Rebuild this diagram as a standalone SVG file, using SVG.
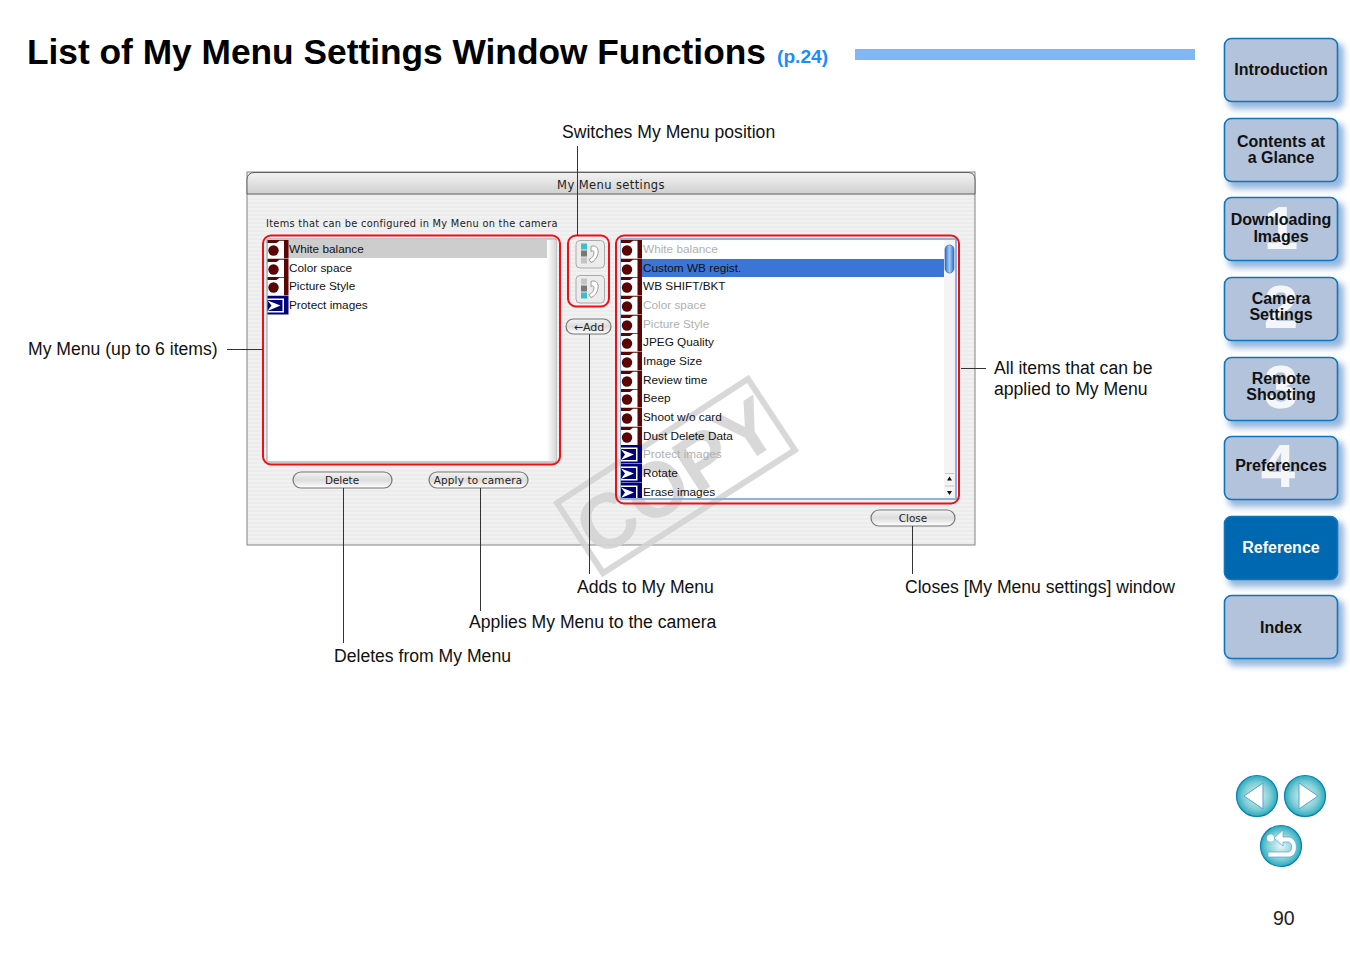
<svg xmlns="http://www.w3.org/2000/svg" width="1350" height="954" viewBox="0 0 1350 954">
<style>
text{font-family:"Liberation Sans",Arial,sans-serif;fill:#000}
.cap{font-size:17.6px;fill:#111}
.ui{font-family:"DejaVu Sans",sans-serif;font-size:10.4px;fill:#222}
.li{font-size:11.8px;fill:#111}
.dim{fill:#b0b0b0}
.side{font-size:16px;font-weight:bold;text-anchor:middle;fill:#111}
.num{font-size:62px;font-weight:bold;text-anchor:middle;fill:#fff;fill-opacity:.85}
.tab{fill:#b3c3dc;stroke:#0f75bc;stroke-width:1.6}
.shadow{fill:#4f86c6;opacity:.6;filter:url(#blur)}
.red{fill:none;stroke:#f00f17;stroke-width:2}
.lead{fill:none;stroke:#333;stroke-width:1}
.btn{fill:url(#btn);stroke:#777;stroke-width:1.2}
</style>
<defs>
<filter id="blur" x="-20%" y="-20%" width="140%" height="140%"><feGaussianBlur stdDeviation="3"/></filter>
<pattern id="stripes" width="4" height="4" patternUnits="userSpaceOnUse"><rect width="4" height="4" fill="#f1f1f1"/><rect y="2" width="4" height="2" fill="#ececec"/></pattern>
<linearGradient id="title" x1="0" y1="0" x2="0" y2="1"><stop offset="0" stop-color="#f3f3f3"/><stop offset="1" stop-color="#cfcfcf"/></linearGradient>
<linearGradient id="btn" x1="0" y1="0" x2="0" y2="1"><stop offset="0" stop-color="#f4f4f4"/><stop offset=".5" stop-color="#dcdcdc"/><stop offset="1" stop-color="#fff"/></linearGradient>
<linearGradient id="edge" x1="0" y1="0" x2="1" y2="0"><stop offset="0" stop-color="#fff"/><stop offset="1" stop-color="#d8d8d8"/></linearGradient>
<linearGradient id="thumb" x1="0" y1="0" x2="1" y2="0"><stop offset="0" stop-color="#2a6fd0"/><stop offset=".5" stop-color="#a8ccf5"/><stop offset="1" stop-color="#2a6fd0"/></linearGradient>
<radialGradient id="nav" cx=".5" cy=".5" r=".55"><stop offset="0" stop-color="#e6f5f6"/><stop offset=".6" stop-color="#7fcdd4"/><stop offset="1" stop-color="#0fa0b8"/></radialGradient>
<g id="cam"><rect width="21" height="18.500" fill="#5c0505"/><path d="M0 3H9L12 0.800H16.500V18.500H0Z" fill="#fff"/><circle cx="6" cy="10.500" r="5.200" fill="#5c0505"/></g>
<g id="play"><rect width="21" height="18.500" fill="#00007a"/><rect y="2.500" width="16.500" height="14" fill="#fff"/><rect y="4" width="15" height="11" fill="#00007a"/><path d="M0 4.500L13 9.500L0 15L4 9.500Z" fill="#fff"/></g>
<g id="swap"><rect x="0" y="0" width="28.500" height="27.500" rx="4" fill="#ececec" stroke="#aaa"/><path d="M15 6C20 4 23 8 22 13C21 18 18 21 15 22L13 19C16 18 18 15 18 12C18 10 16 10 15 11Z" fill="#fff" stroke="#999"/></g>
</defs>

<text id="page-title" x="27" y="64" font-size="35.300" font-weight="bold">List of My Menu Settings Window Functions</text>
<text id="page-ref" x="777" y="63" font-size="19.200" font-weight="bold" style="fill:#1a8cff">(p.24)</text>
<rect id="title-bar" x="855" y="49" width="340" height="11" fill="#80b8f5"/>

<g id="window">
<rect x="247" y="172" width="728" height="373" fill="url(#stripes)" stroke="#777" stroke-width=".9"/>
<path d="M247 194V180Q247 172.500 255 172.500H968Q975 172.500 975 180V194Z" fill="url(#title)" stroke="#555" stroke-width=".9"/>
<text class="ui" x="611" y="189" text-anchor="middle" style="font-size:11.500px;letter-spacing:.4px">My Menu settings</text>
<text class="ui" x="266" y="227" style="font-size:9.800px;letter-spacing:.3px">Items that can be configured in My Menu on the camera</text>
<rect x="621" y="239" width="335" height="260" fill="#fff"/>
</g>

<g id="copy-watermark" opacity=".9">
<path d="M557 503L748 379L795 450L603 573Z" fill="none" stroke="#d4d4d4" stroke-width="6"/>
<text transform="translate(691,499) rotate(-33)" text-anchor="middle" font-size="78" font-weight="bold" style="fill:#d4d4d4">COPY</text>
</g>

<g id="my-menu-list">
<rect x="267" y="239" width="289" height="223" fill="#fff" stroke="#999"/>
<rect x="547" y="240" width="9" height="221" fill="url(#edge)"/>
<rect x="268" y="240" width="279" height="18" fill="#cdcdcd"/>
<use href="#cam" x="267.500" y="240"/><use href="#cam" x="267.500" y="259"/><use href="#cam" x="267.500" y="277"/><use href="#play" x="267.500" y="296"/>
<text class="li" x="289" y="253">White balance</text>
<text class="li" x="289" y="272">Color space</text>
<text class="li" x="289" y="290">Picture Style</text>
<text class="li" x="289" y="309">Protect images</text>
<rect class="red" x="263" y="235.500" width="297" height="229" rx="8"/>
</g>

<g id="position-buttons">
<g transform="translate(576,240.500)"><use href="#swap"/><rect x="5" y="3" width="6" height="6" fill="#3cc0c4"/><rect x="5" y="10" width="6" height="6" fill="#777"/><rect x="5" y="17" width="6" height="6" fill="#c4c4c4"/></g>
<g transform="translate(576,275.500)"><use href="#swap"/><rect x="5" y="3" width="6" height="6" fill="#c4c4c4"/><rect x="5" y="10" width="6" height="6" fill="#777"/><rect x="5" y="17" width="6" height="6" fill="#3cc0c4"/></g>
<rect class="red" x="568" y="235.500" width="41" height="71" rx="8"/>
</g>

<g id="add-button"><rect class="btn" x="566" y="319" width="45" height="15" rx="7.500"/><text class="ui" x="589" y="331" text-anchor="middle" style="font-size:11px">←Add</text></g>

<g id="all-items-list">
<rect x="621" y="239" width="335" height="260" fill="none" stroke="#8fb4dc" stroke-width="2"/>
<rect x="622" y="259" width="322" height="18" fill="#3b76d6"/>
<rect x="944" y="240" width="11" height="258" fill="#f4f4f4"/>
<rect x="945" y="245" width="9" height="28" rx="4.500" fill="url(#thumb)" stroke="#2a62b8" stroke-width=".6"/>
<path d="M949.500 476.500l2.500 4h-5zM949.500 495l2.500-4h-5z" fill="#111"/>
<path d="M945 473.500H954M945 486H954" stroke="#bbb" stroke-width=".8"/>
<use href="#cam" x="621" y="240"/><use href="#cam" x="621" y="259"/><use href="#cam" x="621" y="277"/><use href="#cam" x="621" y="296"/><use href="#cam" x="621" y="315"/><use href="#cam" x="621" y="333"/><use href="#cam" x="621" y="352"/><use href="#cam" x="621" y="371"/><use href="#cam" x="621" y="389"/><use href="#cam" x="621" y="408"/><use href="#cam" x="621" y="427"/><use href="#play" x="621" y="445"/><use href="#play" x="621" y="464"/><use href="#play" x="621" y="483" clip-path="inset(0 0 3.500px 0)"/>
<text class="li dim" x="643" y="253">White balance</text>
<text class="li" x="643" y="272">Custom WB regist.</text>
<text class="li" x="643" y="290">WB SHIFT/BKT</text>
<text class="li dim" x="643" y="309">Color space</text>
<text class="li dim" x="643" y="328">Picture Style</text>
<text class="li" x="643" y="346">JPEG Quality</text>
<text class="li" x="643" y="365">Image Size</text>
<text class="li" x="643" y="384">Review time</text>
<text class="li" x="643" y="402">Beep</text>
<text class="li" x="643" y="421">Shoot w/o card</text>
<text class="li" x="643" y="440">Dust Delete Data</text>
<text class="li dim" x="643" y="458">Protect images</text>
<text class="li" x="643" y="477">Rotate</text>
<text class="li" x="643" y="496">Erase images</text>
<rect class="red" x="616" y="235.500" width="343" height="268" rx="8"/>
</g>

<g id="delete-button"><rect class="btn" x="293" y="472" width="99" height="16" rx="8"/><text class="ui" x="342" y="484" text-anchor="middle">Delete</text></g>
<g id="apply-button"><rect class="btn" x="429" y="472" width="99" height="16" rx="8"/><text class="ui" x="478" y="484" text-anchor="middle" style="letter-spacing:.2px">Apply to camera</text></g>
<g id="close-button"><rect class="btn" x="871" y="510" width="84" height="16" rx="8"/><text class="ui" x="913" y="522" text-anchor="middle">Close</text></g>

<g id="connectors">
<path class="lead" d="M577.500 146V236M227 349.500H263M589.500 334V574M343.500 488V643M480.500 488V611M912.500 526V574M961 368.500H986"/>
</g>

<g id="captions">
<text class="cap" x="562" y="138">Switches My Menu position</text>
<text class="cap" x="28" y="354.500">My Menu (up to 6 items)</text>
<text class="cap" x="994" y="374">All items that can be</text>
<text class="cap" x="994" y="395">applied to My Menu</text>
<text class="cap" x="577" y="593">Adds to My Menu</text>
<text class="cap" x="905" y="593">Closes [My Menu settings] window</text>
<text class="cap" x="469" y="628">Applies My Menu to the camera</text>
<text class="cap" x="334" y="662">Deletes from My Menu</text>
</g>

<g id="tab-introduction"><rect class="shadow" x="1228" y="43" width="116" height="66" rx="7"/><rect class="tab" x="1224.500" y="38.500" width="113" height="63" rx="7"/><text class="side" x="1281" y="75">Introduction</text></g>
<g id="tab-contents"><rect class="shadow" x="1228" y="123" width="116" height="66" rx="7"/><rect class="tab" x="1224.500" y="118.500" width="113" height="63" rx="7"/><text class="side" x="1281" y="147">Contents at</text><text class="side" x="1281" y="163">a Glance</text></g>
<g id="tab-1"><rect class="shadow" x="1228" y="202" width="116" height="66" rx="7"/><rect class="tab" x="1224.500" y="197.500" width="113" height="63" rx="7"/><text class="num" x="1281" y="249">1</text><text class="side" x="1281" y="225">Downloading</text><text class="side" x="1281" y="241.500">Images</text></g>
<g id="tab-2"><rect class="shadow" x="1228" y="282" width="116" height="66" rx="7"/><rect class="tab" x="1224.500" y="277.500" width="113" height="63" rx="7"/><text class="num" x="1281" y="328">2</text><text class="side" x="1281" y="304">Camera</text><text class="side" x="1281" y="320">Settings</text></g>
<g id="tab-3"><rect class="shadow" x="1228" y="362" width="116" height="66" rx="7"/><rect class="tab" x="1224.500" y="357.500" width="113" height="63" rx="7"/><text class="num" x="1281" y="408">3</text><text class="side" x="1281" y="384">Remote</text><text class="side" x="1281" y="400">Shooting</text></g>
<g id="tab-4"><rect class="shadow" x="1228" y="441" width="116" height="66" rx="7"/><rect class="tab" x="1224.500" y="436.500" width="113" height="63" rx="7"/><text class="num" x="1278" y="487">4</text><text class="side" x="1281" y="471">Preferences</text></g>
<g id="tab-reference"><rect class="shadow" x="1228" y="521" width="116" height="66" rx="7"/><rect x="1224.500" y="516.500" width="113" height="63" rx="7" fill="#0068b0" stroke="#0f75bc" stroke-width="1.600"/><text class="side" x="1281" y="553" style="fill:#fff">Reference</text></g>
<g id="tab-index"><rect class="shadow" x="1228" y="600" width="116" height="66" rx="7"/><rect class="tab" x="1224.500" y="595.500" width="113" height="63" rx="7"/><text class="side" x="1281" y="633">Index</text></g>

<g id="nav-prev"><circle cx="1257" cy="796" r="20.500" fill="url(#nav)" stroke="#0a7fb0" stroke-width="1.200"/><path d="M1263 783V809L1244 796Z" fill="#fff" stroke="#4aa5d5"/></g>
<g id="nav-next"><circle cx="1305" cy="796" r="20.500" fill="url(#nav)" stroke="#0a7fb0" stroke-width="1.200"/><path d="M1299 783V809L1318 796Z" fill="#fff" stroke="#4aa5d5"/></g>
<g id="nav-back"><circle cx="1281" cy="846" r="20.500" fill="url(#nav)" stroke="#0a7fb0" stroke-width="1.200"/><circle cx="1270.500" cy="838" r="3.500" fill="#fff"/><path d="M1283 830L1274 838L1283 846V842H1288C1293 842 1293 852 1288 852H1268V857H1289C1299 857 1299 837 1288 837H1283Z" fill="#fff" stroke="#4aa5d5" stroke-width=".7"/></g>
<text id="page-number" x="1273" y="925" font-size="19.500" style="fill:#222">90</text>
</svg>
